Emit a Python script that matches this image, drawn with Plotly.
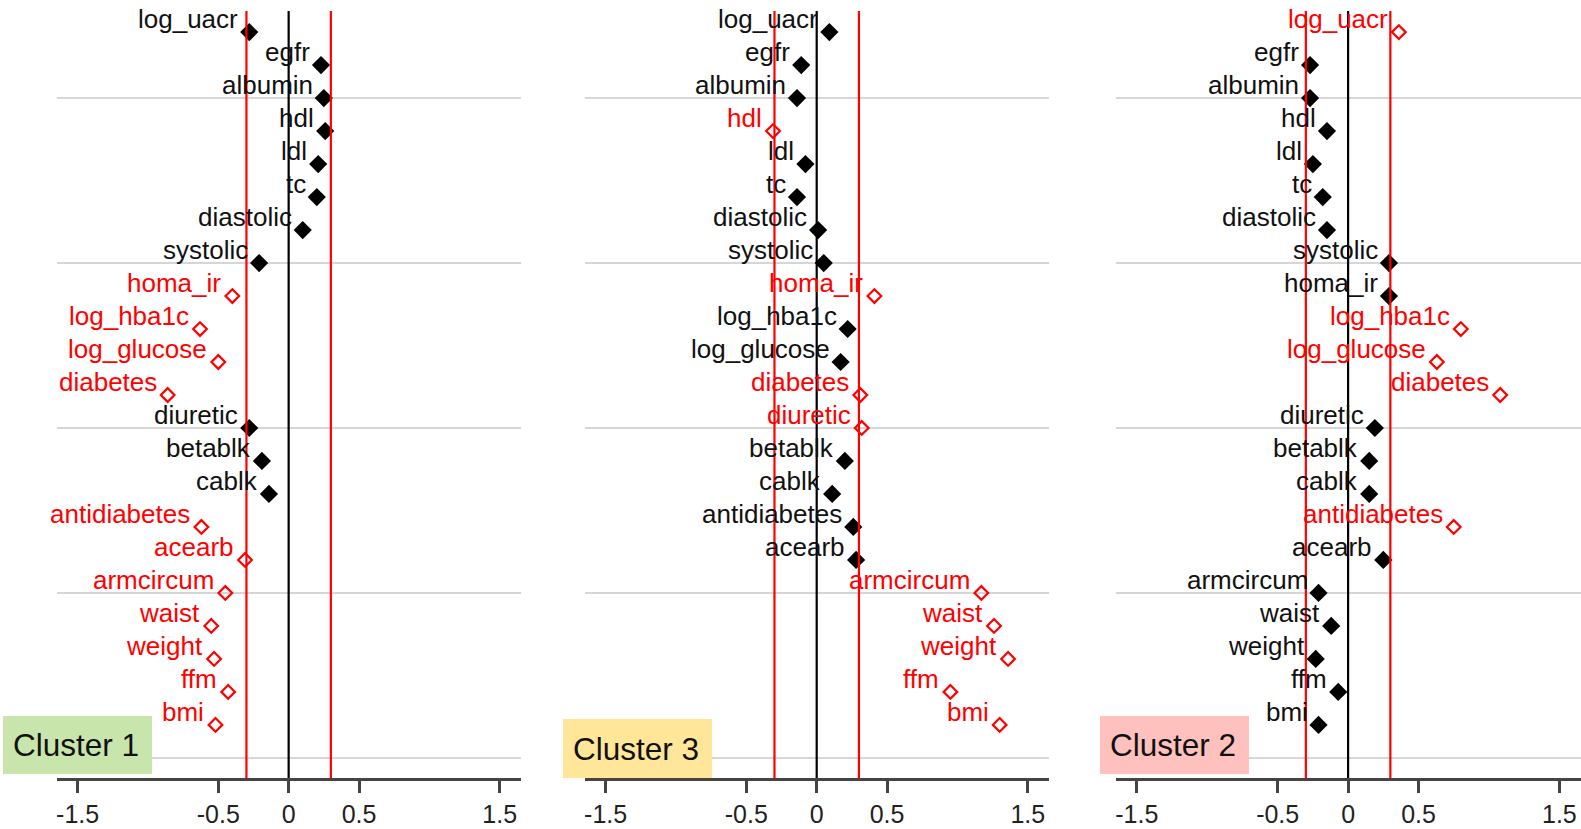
import plotly.graph_objects as go

variables = ["log_uacr", "egfr", "albumin", "hdl", "ldl", "tc", "diastolic", "systolic",
             "homa_ir", "log_hba1c", "log_glucose", "diabetes", "diuretic", "betablk",
             "cablk", "antidiabetes", "acearb", "armcircum", "waist", "weight", "ffm", "bmi"]

cluster1 = [-0.28, 0.23, 0.25, 0.26, 0.21, 0.20, 0.10, -0.21,
            -0.40, -0.63, -0.50, -0.86, -0.28, -0.19,
            -0.14, -0.62, -0.31, -0.45, -0.55, -0.53, -0.43, -0.52]
cluster3 = [0.09, -0.11, -0.14, -0.31, -0.08, -0.14, 0.01, 0.05,
            0.41, 0.22, 0.17, 0.31, 0.32, 0.20,
            0.11, 0.26, 0.28, 1.17, 1.26, 1.36, 0.95, 1.30]
cluster2 = [0.36, -0.27, -0.27, -0.15, -0.25, -0.18, -0.15, 0.29,
            0.29, 0.80, 0.63, 1.08, 0.19, 0.15,
            0.15, 0.75, 0.25, -0.21, -0.12, -0.23, -0.07, -0.21]

panel_names = ["Cluster 1", "Cluster 3", "Cluster 2"]
panel_values = [cluster1, cluster3, cluster2]
box_colors = ["#c8e5ab", "#ffe699", "#ffc1bd"]

threshold = 0.3
tick_vals = [-1.5, -0.5, 0, 0.5, 1.5]
tick_text = ["-1.5", "-0.5", "0", "0.5", "1.5"]

W, H = 1581, 829
FONT = "Liberation Sans, Arial, sans-serif"

# pixel geometry of the panels
px_domains = [(56.5, 520.8), (584.5, 1048.9), (1115.7, 1580.5)]
y_top_px, y_bot_px = 11, 778
box_px = [(3, 152, 716, 774), (563, 712, 719, 778), (1100, 1249, 716, 774)]

n = len(variables)
ypos = list(range(n, 0, -1))  # log_uacr at top

fig = go.Figure()

for i, (name, vals) in enumerate(zip(panel_names, panel_values)):
    xa = "x" if i == 0 else f"x{i+1}"
    ya = "y" if i == 0 else f"y{i+1}"
    inside = [abs(v) <= threshold for v in vals]
    xin = [v for v, k in zip(vals, inside) if k]
    yin = [y for y, k in zip(ypos, inside) if k]
    xout = [v for v, k in zip(vals, inside) if not k]
    yout = [y for y, k in zip(ypos, inside) if not k]
    fig.add_trace(go.Scatter(x=xin, y=yin, mode="markers", xaxis=xa, yaxis=ya,
                             marker=dict(symbol="diamond", size=14, color="black",
                                         line=dict(width=0)),
                             showlegend=False, hoverinfo="skip"))
    fig.add_trace(go.Scatter(x=xout, y=yout, mode="markers", xaxis=xa, yaxis=ya,
                             marker=dict(symbol="diamond-open", size=10.5, color="red",
                                         line=dict(width=2.2, color="red")),
                             showlegend=False, hoverinfo="skip"))
    # labels
    for v, y, lab, k in zip(vals, ypos, variables, inside):
        fig.add_annotation(x=v, y=y, xref=xa, yref=ya, text=lab, showarrow=False,
                           xanchor="right", yanchor="bottom", xshift=-9, yshift=-4,
                           font=dict(family=FONT, size=26, color="#111111" if k else "red"))
    # vertical reference lines
    for xv, col in [(-threshold, "red"), (0, "black"), (threshold, "red")]:
        fig.add_shape(type="line", x0=xv, x1=xv, y0=0, y1=1,
                      xref=xa, yref=f"{ya} domain",
                      line=dict(color=col, width=2.2), layer="above")

    x0, x1 = px_domains[i]
    axis_x = dict(domain=[x0 / W, x1 / W], range=[-1.65, 1.65],
                  tickvals=tick_vals, ticktext=tick_text,
                  showgrid=False, zeroline=False, showline=True,
                  linecolor="#444444", linewidth=2.5,
                  ticks="outside", ticklen=12, tickwidth=2.5, tickcolor="#444444",
                  tickfont=dict(family=FONT, size=25, color="#222222"),
                  anchor=ya, fixedrange=True)
    axis_y = dict(domain=[1 - y_bot_px / H, 1 - y_top_px / H],
                  range=[-0.61, n + 0.64], tick0=0, dtick=5,
                  showgrid=True, gridcolor="#d6d6d6", gridwidth=1.5,
                  showticklabels=False, zeroline=False, showline=False,
                  ticks="", anchor=xa, fixedrange=True)
    fig.update_layout({("xaxis" if i == 0 else f"xaxis{i+1}"): axis_x,
                       ("yaxis" if i == 0 else f"yaxis{i+1}"): axis_y})

    # cluster label box
    bx0, bx1, by0, by1 = box_px[i]
    fig.add_shape(type="rect", xref="paper", yref="paper",
                  x0=bx0 / W, x1=bx1 / W, y0=1 - by1 / H, y1=1 - by0 / H,
                  fillcolor=box_colors[i], line=dict(width=0), layer="above")
    fig.add_annotation(x=(bx0 + 8) / W, y=1 - ((by0 + by1) / 2) / H,
                       xref="paper", yref="paper", text=name, showarrow=False,
                       xanchor="left", yanchor="middle",
                       font=dict(family=FONT, size=31.5, color="#111111"))

fig.update_layout(width=W, height=H, margin=dict(l=0, r=0, t=0, b=0),
                  paper_bgcolor="white", plot_bgcolor="white", showlegend=False)

fig.write_html("out.html", config={"displayModeBar": False},
               post_script="document.body.style.margin='0';document.body.style.overflow='hidden';")
